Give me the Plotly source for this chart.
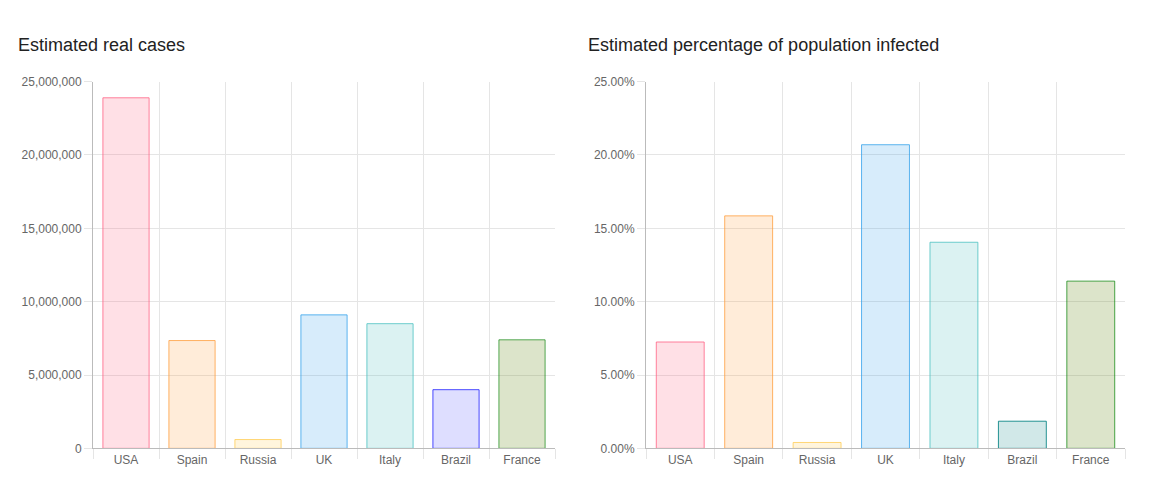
import plotly.graph_objects as go

countries = ["USA", "Spain", "Russia", "UK", "Italy", "Brazil", "France"]
real_cases = [23900000, 7350000, 600000, 9100000, 8500000, 4000000, 7400000]
pct_infected = [7.25, 15.85, 0.4, 20.7, 14.05, 1.85, 11.4]

left_fill = ["rgba(255,99,132,0.2)", "rgba(255,159,64,0.2)", "rgba(255,205,86,0.2)",
             "rgba(54,162,235,0.2)", "rgba(75,192,192,0.2)", "rgba(0,0,255,0.13)",
             "rgba(107,142,35,0.24)"]
left_line = ["rgba(255,99,132,0.8)", "rgba(255,159,64,0.8)", "rgba(255,205,86,0.8)",
             "rgba(54,162,235,0.8)", "rgba(75,192,192,0.8)", "rgba(0,0,255,0.7)",
             "rgba(0,128,0,0.65)"]
right_fill = ["rgba(255,99,132,0.2)", "rgba(255,159,64,0.2)", "rgba(255,205,86,0.2)",
              "rgba(54,162,235,0.2)", "rgba(75,192,192,0.2)", "rgba(0,128,128,0.18)",
              "rgba(107,142,35,0.24)"]
right_line = ["rgba(255,99,132,0.8)", "rgba(255,159,64,0.8)", "rgba(255,205,86,0.8)",
              "rgba(54,162,235,0.8)", "rgba(75,192,192,0.8)", "rgba(0,128,128,0.85)",
              "rgba(0,128,0,0.7)"]

xs = list(range(len(countries)))
fig = go.Figure()
fig.add_trace(go.Bar(x=xs, y=real_cases, width=0.7,
                     marker=dict(color=left_fill, line=dict(color=left_line, width=1)),
                     xaxis="x", yaxis="y", hoverinfo="skip"))
fig.add_trace(go.Bar(x=xs, y=pct_infected, width=0.7,
                     marker=dict(color=right_fill, line=dict(color=right_line, width=1)),
                     xaxis="x2", yaxis="y2", hoverinfo="skip"))

font = dict(family="Liberation Sans, Arial, sans-serif", size=12, color="#666")
xcommon = dict(range=[-0.5, 6.5], tickvals=xs, ticktext=countries, showgrid=False,
               ticks="", zeroline=False, showline=True, linecolor="#bbb",
               tickfont=font,
               minor=dict(tick0=-0.5, dtick=1, showgrid=True, gridcolor="#e5e5e5",
                          ticks="outside", ticklen=10, tickcolor="#e5e5e5"))
ycommon = dict(gridcolor="#e5e5e5", zeroline=False, showline=True, linecolor="#bbb",
               ticks="outside", ticklen=8, tickcolor="#e5e5e5", tickfont=font)

ydom = [0.1028, 0.862]
title_font = dict(family="Liberation Sans, Arial, sans-serif", size=18, color="#222")
fig.update_layout(
    width=1155, height=497, showlegend=False,
    paper_bgcolor="white", plot_bgcolor="white",
    margin=dict(l=0, r=0, t=0, b=0),
    xaxis=dict(domain=[0.0736, 0.4736], anchor="y", **xcommon),
    yaxis=dict(domain=ydom, anchor="x", tickvals=[0, 5e6, 10e6, 15e6, 20e6, 25e6],
               tickformat=",d", range=[0, 25e6], **ycommon),
    xaxis2=dict(domain=[0.5524, 0.9671], anchor="y2", **xcommon),
    yaxis2=dict(domain=ydom, anchor="x2", tickvals=[0, 5, 10, 15, 20, 25],
                ticktext=["0.00%", "5.00%", "10.00%", "15.00%", "20.00%", "25.00%"],
                range=[0, 25], **ycommon),
    annotations=[
        dict(text="Estimated real cases", x=0.0069, y=0.938, xref="paper", yref="paper",
             xanchor="left", yanchor="middle", showarrow=False, font=title_font),
        dict(text="Estimated percentage of population infected", x=0.5004, y=0.938,
             xref="paper", yref="paper", xanchor="left", yanchor="middle", showarrow=False,
             font=title_font),
    ],
)
fig.write_html("out.html")
